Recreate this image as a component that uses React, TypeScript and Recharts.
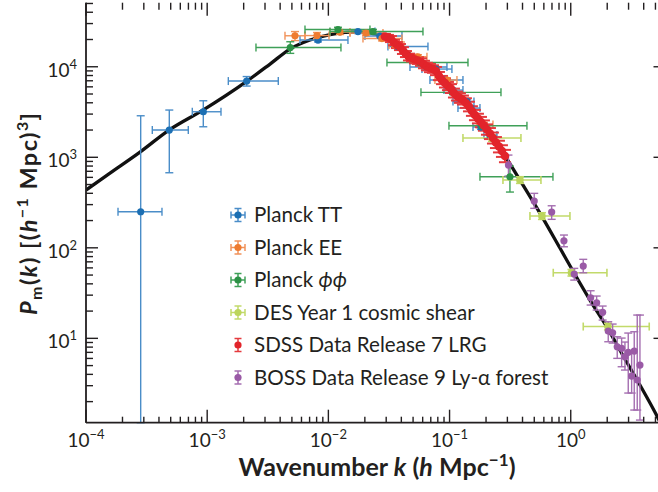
import React from 'react';
import { ComposedChart, Line, Scatter, XAxis, YAxis, ErrorBar, Legend } from 'recharts';

const W = 670;
const H = 492;
const FONT = "Lato, 'Open Sans', sans-serif";
const INK = '#231f20';
const MARGIN = { top: 2.7, right: 10.5, bottom: 0, left: 0 };
const Y_AXIS_W = 86;
const X_AXIS_H = 69.3;
const PLOT_TOP = MARGIN.top;
const PLOT_RIGHT = W - MARGIN.right;

// ---------- model curve ----------
const curveK = [1e-4, 1.578e-4, 2.79e-4, 4.84e-4, 9.23e-4, 2.13e-3, 3.3e-3, 4.82e-3, 7.05e-3, 0.01031, 0.01508, 0.02004, 0.02666, 0.03544, 0.04713, 0.06266, 0.08331, 0.1108, 0.1473, 0.1959, 0.2605, 0.381, 0.557, 0.8145, 1.043, 1.44, 1.989, 2.801, 3.724, 5.046, 5.656];
const curveP = [434.5, 669.9, 1142, 1999, 3325, 6950, 10710, 15690, 19720, 22690, 24170, 24170, 22110, 18740, 13810, 10440, 7694, 5254, 3498, 2158, 1265, 560.4, 242.1, 99.4, 55.4, 26.5, 13.33, 5.905, 3.048, 1.458, 1.074];

// ---------- Planck TT ----------
const ttK = [2.827e-4, 4.868e-4, 9.287e-4, 2.118e-3, 8.21e-3, 0.01754, 0.02666, 0.03753, 0.06509, 0.07722, 0.08991, 0.1046, 0.1392, 0.1502, 0.1816, 0.2154];
const ttP = [250.2, 1999, 3184, 6950, 19720, 24480, 21830, 16720, 9924, 9432, 7131, 5528, 4127, 3498, 2158, 1761];
const ttKLo = [1.837e-4, 3.524e-4, 7.535e-4, 1.494e-3, 5.831e-3, 0.01246, 0.02004, 0.03102, 0.04713, 0.05921, 0.06891, 0.08991, 0.1067, 0.1173, 0.1561, 0.1922];
const ttKHi = [4.236e-4, 6.984e-4, 1.3e-3, 3.861e-3, 0.01451, 0.02424, 0.04049, 0.06634, 0.09517, 0.1046, 0.129, 0.129, 0.159, 0.1782, 0.2035, 0.2461];
const ttPLo = [1.17, 674.8, 2174, 6120, 18800, 23300, 20700, 15800, 9350, 8900, 6700, 5200, 3880, 3290, 2030, 1650];
const ttPHi = [2875, 3325, 4211, 7793, 20700, 25700, 23000, 17700, 10500, 10000, 7580, 5860, 4380, 3720, 2290, 1870];

// ---------- Planck EE ----------
const eeK = [5.302e-3, 8.054e-3, 0.01246, 0.02043, 0.02768, 0.03544, 0.05487, 0.09517, 0.1922];
const eeP = [21990, 22110, 24170, 23560, 20490, 17370, 12900, 7131, 2298];
const eeKLo = [4.385e-3, 6.412e-3, 0.01031, 0.01508, 0.0193, 0.03162, 0.04713, 0.07576, 0.1683];
const eeKHi = [6.412e-3, 0.01012, 0.01508, 0.02822, 0.04049, 0.04206, 0.06509, 0.1151, 0.2281];
const eePLo = [19470, 20400, 22700, 22200, 19300, 16400, 12200, 6750, 2170];
const eePHi = [24480, 23900, 25700, 25000, 21700, 18400, 13600, 7530, 2430];

// ---------- Planck phi-phi ----------
const ppK = [4.848e-3, 0.012, 0.02333, 0.05699, 0.1067, 0.185, 0.315];
const ppP = [16300, 25760, 24480, 11130, 5214, 2230, 609.3];
const ppKLo = [2.527e-3, 6.412e-3, 0.01031, 0.03044, 0.05808, 0.09886, 0.1782];
const ppKHi = [0.0127, 0.02204, 0.06033, 0.1419, 0.2656, 0.4351, 0.7132];
const ppPLo = [14060, 24300, 23100, 10500, 4920, 2100, 413];
const ppPHi = [18890, 27300, 25900, 11800, 5520, 2370, 800];

// ---------- DES Y1 cosmic shear ----------
const desK = [0.2238, 0.381, 0.5786, 1.0135, 2.027];
const desP = [1631, 560.4, 224.3, 53.03, 13.5];
const desKLo = [0.129, 0.2758, 0.4607, 0.7173, 1.268];
const desKHi = [0.3882, 0.5677, 0.9849, 1.989, 4.443];
const desPLo = [1500, 515, 206, 48.8, 12.4];
const desPHi = [1770, 610, 244, 57.6, 14.7];

// ---------- SDSS DR7 LRG ----------
const sdssK = [0.02931, 0.03102, 0.03284, 0.03477, 0.03681, 0.03897, 0.04125, 0.04368, 0.04624, 0.04896, 0.05183, 0.05487, 0.05808, 0.06149, 0.06509, 0.06891, 0.07295, 0.07723, 0.08176, 0.08656, 0.09162, 0.097, 0.1027, 0.1087, 0.1151, 0.1218, 0.129, 0.1365, 0.1446, 0.153, 0.162, 0.1715, 0.1816, 0.1922, 0.2035, 0.2154, 0.2281, 0.2414, 0.2556, 0.2706, 0.2865];
const sdssP = [21560, 21010, 20230, 18500, 17370, 16500, 15100, 13810, 12800, 12480, 12010, 11710, 11270, 10580, 10050, 9674, 9432, 8965, 7895, 7131, 6607, 6120, 5741, 5122, 4745, 4510, 4287, 3972, 3634, 3241, 2927, 2678, 2449, 2241, 2024, 1828, 1631, 1454, 1313, 1171, 1032];
const sdssRelErr = [0.07, 0.07, 0.08, 0.07, 0.08, 0.08, 0.09, 0.08, 0.09, 0.09, 0.1, 0.09, 0.1, 0.1, 0.1, 0.11, 0.1, 0.11, 0.11, 0.11, 0.12, 0.11, 0.12, 0.12, 0.12, 0.13, 0.12, 0.13, 0.13, 0.13, 0.14, 0.13, 0.14, 0.14, 0.14, 0.15, 0.15, 0.15, 0.16, 0.16, 0.17];

// ---------- BOSS DR9 Ly-alpha forest ----------
const bossK = [0.3062, 0.4997, 0.6959, 0.8788, 1.069, 1.268, 1.459, 1.636, 1.833, 2.039, 2.216, 2.419, 2.63, 2.801, 2.982, 3.181, 3.342, 3.538, 3.724];
const bossP = [820.7, 328.6, 248.3, 119.7, 51.3, 62.9, 28.08, 24.72, 19.37, 12.04, 11.53, 8.075, 7.75, 6.26, 7.0, 3.831, 7.237, 3.462, 5.07];
const bossPLo = [620.3, 272.9, 206.3, 102.7, 44.0, 53.0, 23.32, 20.53, 15.92, 9.17, 8.87, 6.01, 4.857, 4.464, 2.487, 2.487, 1.614, 1.614, 1.251];
const bossPHi = [1058, 399.6, 291.4, 138.4, 59.3, 74.6, 33.55, 29.32, 22.74, 15.25, 14.38, 10.41, 10.07, 9.1, 11.44, 6.877, 11.83, 18.08, 18.08];

// ---------- axes ----------
const X_DOMAIN: [number, number] = [1e-4, 5.4];
const Y_DOMAIN: [number, number] = [1.17, 5.1e4];
const xMajor = [1e-4, 1e-3, 1e-2, 1e-1, 1];
const yMajor = [1, 10, 100, 1000, 10000];
const minorMult = [2, 3, 4, 5, 6, 7, 8, 9];

const withMinor = (majors: number[], dom: [number, number]) => {
  const out: number[] = [];
  majors.forEach((m) => {
    out.push(m);
    minorMult.forEach((f) => out.push(m * f));
  });
  return out.filter((v) => v >= dom[0] && v <= dom[1]).sort((a, b) => a - b);
};
const xTicks = withMinor(xMajor, X_DOMAIN);
const yTicks = withMinor(yMajor, Y_DOMAIN);

// ---------- colours ----------
const C = {
  tt: { dot: '#1c6fb3', bar: '#4a8dc8' },
  ee: { dot: '#ee7b30', bar: '#f1925a' },
  pp: { dot: '#2c9246', bar: '#3fa058' },
  des: { dot: '#bcd55c', bar: '#c2da6a' },
  sdss: { dot: '#e2242b', bar: '#e43a3e' },
  boss: { dot: '#9a5aa6', bar: '#a46eb0' },
};

type Pt = { k: number; p: number; ex?: [number, number]; ey?: [number, number] };

const build = (k: number[], p: number[], kLo: number[] | null, kHi: number[] | null, pLo: number[], pHi: number[]): Pt[] =>
  k.map((kv, i) => {
    const o: Pt = { k: kv, p: p[i], ey: [p[i] - pLo[i], pHi[i] - p[i]] };
    if (kLo && kHi) o.ex = [kv - kLo[i], kHi[i] - kv];
    return o;
  });

const curveData = curveK.map((k, i) => ({ k, p: curveP[i] }));
const ttData = build(ttK, ttP, ttKLo, ttKHi, ttPLo, ttPHi);
const eeData = build(eeK, eeP, eeKLo, eeKHi, eePLo, eePHi);
const ppData = build(ppK, ppP, ppKLo, ppKHi, ppPLo, ppPHi);
const desData = build(desK, desP, desKLo, desKHi, desPLo, desPHi);
const sdssData = build(
  sdssK,
  sdssP,
  null,
  null,
  sdssP.map((p, i) => p / (1 + sdssRelErr[i])),
  sdssP.map((p, i) => p * (1 + sdssRelErr[i]))
);
const bossData = build(bossK, bossP, null, null, bossPLo, bossPHi);

// ---------- ticks ----------
const isMajor = (v: number) => Math.abs(Math.log10(v) - Math.round(Math.log10(v))) < 1e-6;
const expStr = (v: number) => {
  const e = Math.round(Math.log10(v));
  return e < 0 ? '\u2212' + Math.abs(e) : String(e);
};

// bottom axis tick: inward tick on the bottom frame, mirrored tick on the top frame, label below
const BottomTick = (props: any) => {
  const { x, y, payload } = props;
  const major = isMajor(payload.value);
  return (
    <g>
      <line x1={x} x2={x} y1={y} y2={y - (major ? 13 : 6)} stroke={INK} strokeWidth={1.4} />
      <line x1={x} x2={x} y1={PLOT_TOP} y2={PLOT_TOP + (major ? 13 : 7)} stroke={INK} strokeWidth={1.4} />
      {major && (
        <text x={x} y={y + 24} textAnchor="middle" fontFamily={FONT} fontSize={19} fill={INK}>
          10
          <tspan fontSize={13} dy={-8}>
            {expStr(payload.value)}
          </tspan>
        </text>
      )}
    </g>
  );
};

// left axis tick: inward tick on the left frame, short major tick on the right frame, label at left
const LeftTick = (props: any) => {
  const { x, y, payload } = props;
  const major = isMajor(payload.value);
  return (
    <g>
      <line x1={x} x2={x + (major ? 12 : 7)} y1={y} y2={y} stroke={INK} strokeWidth={1.4} />
      {major && <line x1={PLOT_RIGHT} x2={PLOT_RIGHT - 6} y1={y} y2={y} stroke={INK} strokeWidth={1.4} />}
      {major && payload.value >= 10 && (
        <text x={x - 9} y={y + 10} textAnchor="end" fontFamily={FONT} fontSize={19} fill={INK}>
          10
          <tspan fontSize={13} dy={-8}>
            {expStr(payload.value)}
          </tspan>
        </text>
      )}
    </g>
  );
};

// ---------- titles ----------
const XTitle = () => (
  <text
    x={377}
    y={476}
    textAnchor="middle"
    fontFamily={FONT}
    fontWeight={700}
    fontSize={25}
    fill={INK}
    textLength={277}
    lengthAdjust="spacing"
  >
    Wavenumber <tspan fontStyle="italic">k</tspan> (<tspan fontStyle="italic">h</tspan> Mpc
    <tspan fontSize={17} dy={-10}>{'\u2212'}1</tspan>
    <tspan dy={10}>)</tspan>
  </text>
);

const YTitle = () => (
  <text
    x={37}
    y={214}
    transform="rotate(-90, 37, 214)"
    textAnchor="middle"
    fontFamily={FONT}
    fontWeight={700}
    fontSize={23.5}
    fill={INK}
    textLength={202}
    lengthAdjust="spacing"
  >
    <tspan fontStyle="italic">P</tspan>
    <tspan fontSize={16} dy={5}>m</tspan>
    <tspan dy={-5}>(</tspan>
    <tspan fontStyle="italic">k</tspan>
    <tspan>) [(</tspan>
    <tspan fontStyle="italic">h</tspan>
    <tspan fontSize={16} dy={-9.5}>{'\u2212'}1</tspan>
    <tspan dy={9.5}> Mpc)</tspan>
    <tspan fontSize={16} dy={-9.5}>3</tspan>
    <tspan dy={9.5}>]</tspan>
  </text>
);

// ---------- legend ----------
const legendItems = [
  { name: 'Planck TT', italic: '', col: C.tt, cross: true },
  { name: 'Planck EE', italic: '', col: C.ee, cross: true },
  { name: 'Planck ', italic: '\u03d5\u03d5', col: C.pp, cross: true },
  { name: 'DES Year 1 cosmic shear', italic: '', col: C.des, cross: true },
  { name: 'SDSS Data Release 7 LRG', italic: '', col: C.sdss, cross: false },
  { name: 'BOSS Data Release 9 Ly-\u03b1 forest', italic: '', col: C.boss, cross: false },
];

const LegendBox = () => (
  <svg width={360} height={200} style={{ display: 'block', overflow: 'visible' }}>
    {legendItems.map((it, i) => {
      const cy = 15 + i * 32.5;
      const cx = 13;
      const s = { stroke: it.col.bar, strokeWidth: 1.5 };
      return (
        <g key={i}>
          {it.cross && (
            <g>
              <line x1={cx - 7} x2={cx + 7} y1={cy} y2={cy} {...s} />
              <line x1={cx - 7} x2={cx - 7} y1={cy - 3.5} y2={cy + 3.5} {...s} />
              <line x1={cx + 7} x2={cx + 7} y1={cy - 3.5} y2={cy + 3.5} {...s} />
            </g>
          )}
          <line x1={cx} x2={cx} y1={cy - 6.5} y2={cy + 6.5} {...s} />
          <line x1={cx - 3.5} x2={cx + 3.5} y1={cy - 6.5} y2={cy - 6.5} {...s} />
          <line x1={cx - 3.5} x2={cx + 3.5} y1={cy + 6.5} y2={cy + 6.5} {...s} />
          <circle cx={cx} cy={cy} r={3.6} fill={it.col.dot} />
          <text x={29} y={cy + 7.2} fontFamily={FONT} fontSize={20.6} fill={INK}>
            {it.name}
            {it.italic && <tspan fontStyle="italic">{it.italic}</tspan>}
          </text>
        </g>
      );
    })}
  </svg>
);

const dot = (fill: string, r: number) => (props: any) =>
  props.cx == null || props.cy == null ? <g /> : <circle cx={props.cx} cy={props.cy} r={r} fill={fill} />;

export default function App() {
  return (
    <div style={{ position: 'absolute', left: 0, top: 0, width: 658, height: 492, overflow: 'hidden', background: '#fff' }}>
      <ComposedChart width={W} height={H} margin={MARGIN}>
        <XAxis
          xAxisId="x"
          dataKey="k"
          type="number"
          scale="log"
          domain={X_DOMAIN}
          allowDataOverflow
          ticks={xTicks}
          interval={0}
          tickSize={0}
          tickMargin={0}
          tickLine={false}
          tick={BottomTick}
          axisLine={{ stroke: INK, strokeWidth: 1.8 }}
          height={X_AXIS_H}
          label={<XTitle />}
        />
        <XAxis
          xAxisId="xt"
          dataKey="k"
          type="number"
          scale="log"
          orientation="top"
          domain={X_DOMAIN}
          allowDataOverflow
          ticks={xMajor}
          tick={false}
          tickLine={false}
          axisLine={{ stroke: INK, strokeWidth: 1.8 }}
          height={0}
        />
        <YAxis
          yAxisId="y"
          dataKey="p"
          type="number"
          scale="log"
          domain={Y_DOMAIN}
          allowDataOverflow
          ticks={yTicks}
          interval={0}
          tickSize={0}
          tickMargin={0}
          tickLine={false}
          tick={LeftTick}
          axisLine={{ stroke: INK, strokeWidth: 1.8 }}
          width={Y_AXIS_W}
          label={<YTitle />}
        />
        <YAxis
          yAxisId="yr"
          dataKey="p"
          type="number"
          scale="log"
          orientation="right"
          domain={Y_DOMAIN}
          allowDataOverflow
          ticks={yMajor}
          tick={false}
          tickLine={false}
          axisLine={{ stroke: INK, strokeWidth: 1.8 }}
          width={0}
        />
        <Legend
          layout="horizontal"
          verticalAlign="middle"
          align="center"
          content={<LegendBox />}
          wrapperStyle={{ left: 225, top: 200, width: 360, height: 200 }}
        />
        <Line
          xAxisId="xt"
          yAxisId="yr"
          data={curveData}
          dataKey="p"
          stroke="none"
          dot={false}
          activeDot={false}
          isAnimationActive={false}
          legendType="none"
        />
        <Line
          xAxisId="x"
          yAxisId="y"
          data={curveData}
          dataKey="p"
          type="monotone"
          stroke="#111111"
          strokeWidth={3.3}
          dot={false}
          activeDot={false}
          isAnimationActive={false}
          legendType="none"
        />
        <Scatter xAxisId="x" yAxisId="y" data={ttData} dataKey="p" shape={dot(C.tt.dot, 3.6)} isAnimationActive={false}>
          <ErrorBar dataKey="ex" direction="x" width={4} stroke={C.tt.bar} strokeWidth={1.4} isAnimationActive={false} />
          <ErrorBar dataKey="ey" direction="y" width={4} stroke={C.tt.bar} strokeWidth={1.4} isAnimationActive={false} />
        </Scatter>
        <Scatter xAxisId="x" yAxisId="y" data={eeData} dataKey="p" shape={dot(C.ee.dot, 3.6)} isAnimationActive={false}>
          <ErrorBar dataKey="ex" direction="x" width={4} stroke={C.ee.bar} strokeWidth={1.4} isAnimationActive={false} />
          <ErrorBar dataKey="ey" direction="y" width={4} stroke={C.ee.bar} strokeWidth={1.4} isAnimationActive={false} />
        </Scatter>
        <Scatter xAxisId="x" yAxisId="y" data={ppData} dataKey="p" shape={dot(C.pp.dot, 3.6)} isAnimationActive={false}>
          <ErrorBar dataKey="ex" direction="x" width={4} stroke={C.pp.bar} strokeWidth={1.4} isAnimationActive={false} />
          <ErrorBar dataKey="ey" direction="y" width={4} stroke={C.pp.bar} strokeWidth={1.4} isAnimationActive={false} />
        </Scatter>
        <Scatter xAxisId="x" yAxisId="y" data={desData} dataKey="p" shape={dot(C.des.dot, 3.8)} isAnimationActive={false}>
          <ErrorBar dataKey="ex" direction="x" width={4} stroke={C.des.bar} strokeWidth={1.6} isAnimationActive={false} />
          <ErrorBar dataKey="ey" direction="y" width={4} stroke={C.des.bar} strokeWidth={1.6} isAnimationActive={false} />
        </Scatter>
        <Scatter xAxisId="x" yAxisId="y" data={sdssData} dataKey="p" shape={dot(C.sdss.dot, 4.3)} isAnimationActive={false}>
          <ErrorBar dataKey="ey" direction="y" width={6} stroke={C.sdss.bar} strokeWidth={2} isAnimationActive={false} />
        </Scatter>
        <Scatter xAxisId="x" yAxisId="y" data={bossData} dataKey="p" shape={dot(C.boss.dot, 3.6)} isAnimationActive={false}>
          <ErrorBar dataKey="ey" direction="y" width={4} stroke={C.boss.bar} strokeWidth={1.4} isAnimationActive={false} />
        </Scatter>
      </ComposedChart>
    </div>
  );
}
